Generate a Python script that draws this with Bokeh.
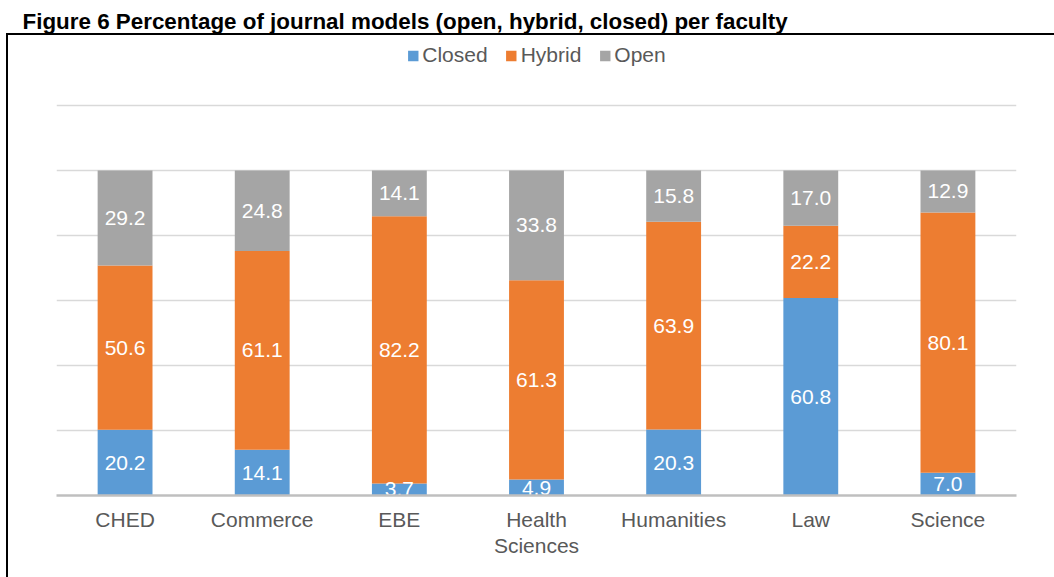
import numpy as np
from bokeh.plotting import figure
from bokeh.models import (FactorRange, Range1d, FixedTicker, Legend, LegendItem,
                          ColumnDataSource, CategoricalAxis, CustomJSTickFormatter,
                          InlineStyleSheet)
from bokeh.core.properties import value
from bokeh.embed import file_html
from bokeh.resources import INLINE

TITLE = "Figure 6 Percentage of journal models (open, hybrid, closed) per faculty"
faculties = ["CHED", "Commerce", "EBE", "Health Sciences", "Humanities", "Law", "Science"]
series = ["Closed", "Hybrid", "Open"]
closed = [20.2, 14.1, 3.7, 4.9, 20.3, 60.8, 7.0]
hybrid = [50.6, 61.1, 82.2, 61.3, 63.9, 22.2, 80.1]
open_ = [29.2, 24.8, 14.1, 33.8, 15.8, 17.0, 12.9]
y_ticks = [0, 20, 40, 60, 80, 100, 120]

colors = ["#5B9BD5", "#ED7D31", "#A5A5A5"]
FONT = "Liberation Sans"
W, H = 1054, 577
FRAME_LEFT = 56
FRAME_TOP, FRAME_BOTTOM = 38, 495
Y_TOP_TICK_PX = 105
BOX_LEFT, BOX_TOP = 6, 33

y_end = y_ticks[-1] * (FRAME_BOTTOM - FRAME_TOP) / (FRAME_BOTTOM - Y_TOP_TICK_PX)

p = figure(width=W, height=H, output_backend="svg", toolbar_location=None,
           x_range=FactorRange(*faculties, range_padding=0),
           y_range=Range1d(0, y_end), y_axis_location=None,
           min_border_left=FRAME_LEFT, min_border_right=38,
           min_border_top=FRAME_TOP, min_border_bottom=H - FRAME_BOTTOM)
p.outline_line_color = None
p.background_fill_color = "white"
p.border_fill_color = "white"

# title (in the plot's top panel)
p.title.text = TITLE
p.title.align = "left"
p.title.offset = 22 - FRAME_LEFT
p.title.standoff = 10
p.title.text_font = FONT
p.title.text_font_size = "22.4px"
p.title.text_font_style = "bold"
p.title.text_color = "black"

src = ColumnDataSource(dict(x=faculties, Closed=closed, Hybrid=hybrid, Open=open_))
rs = p.vbar_stack(series, x="x", width=0.4, source=src, color=colors, line_color=None)

# data labels
vals = np.array([closed, hybrid, open_])
cum = np.cumsum(vals, axis=0)
centers = cum - vals / 2
for i in range(3):
    p.text(x=faculties, y=list(centers[i]), text=[f"{v:.1f}" for v in vals[i]],
           text_color="white", text_font=value(FONT), text_font_size="21px",
           text_align="center", text_baseline="middle")

# grid / axes
p.xgrid.grid_line_color = None
p.ygrid.ticker = FixedTicker(ticks=y_ticks)
p.ygrid.grid_line_color = "#D9D9D9"
p.ygrid.grid_line_width = 1.5

def style_axis(a):
    a.major_tick_line_color = None
    a.minor_tick_line_color = None
    a.major_label_text_font = FONT
    a.major_label_text_font_size = "21px"
    a.major_label_text_color = "#595959"

ax = p.xaxis[0]
style_axis(ax)
ax.axis_line_color = "#BFBFBF"
ax.axis_line_width = 2.5
ax.major_label_standoff = 6
ax.formatter = CustomJSTickFormatter(
    code="return tick == 'Health Sciences' ? 'Health' : tick;")

ax2 = CategoricalAxis()
style_axis(ax2)
ax2.axis_line_color = None
ax2.major_label_standoff = -6
ax2.formatter = CustomJSTickFormatter(
    code="return tick == 'Health Sciences' ? 'Sciences' : '';")
p.add_layout(ax2, "below")

legend = Legend(items=[LegendItem(label=s, renderers=[r]) for s, r in zip(series, rs)],
                location="top_center", orientation="horizontal",
                glyph_width=13, glyph_height=13, label_standoff=3, spacing=17,
                label_text_font=FONT, label_text_font_size="21px",
                label_text_color="#595959", border_line_color=None,
                background_fill_alpha=0, padding=0, margin=5)
p.add_layout(legend, "center")

# outer chart box: left and top edges only (open at right and bottom)
p.stylesheets = [InlineStyleSheet(css=(
    ":host::after { content: ''; position: absolute; "
    f"left: {BOX_LEFT}px; top: {BOX_TOP}px; right: 0; bottom: 0; "
    "border-left: 2px solid #000; border-top: 2px solid #000; "
    "pointer-events: none; z-index: 100; }"))]

open("out.html", "w").write(file_html(p, INLINE))
